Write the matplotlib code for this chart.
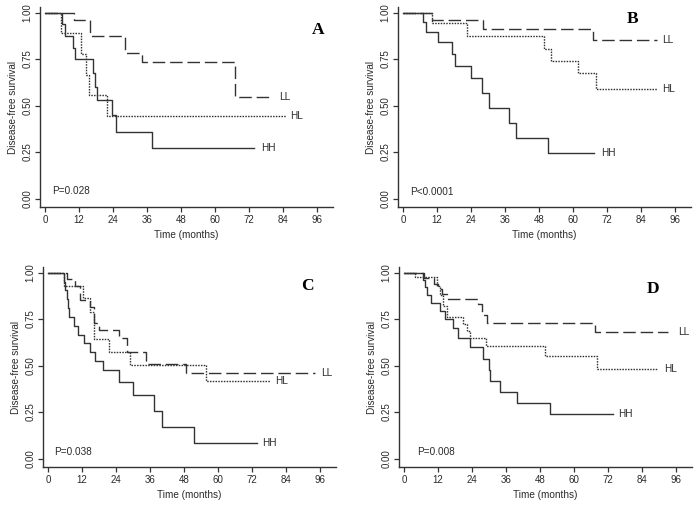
import matplotlib

matplotlib.use("Agg")
import matplotlib.pyplot as plt

plt.rcParams["font.family"] = ["Liberation Sans", "DejaVu Sans"]

# Kaplan-Meier steps: times (months) and survival
A_LL_t = [0, 10.2, 15.8, 28.1, 34.0, 67.0]
A_LL_s = [1, 0.962, 0.876, 0.781, 0.733, 0.548]
A_HL_t = [0, 5.5, 12.7, 14.4, 15.6, 21.7]
A_HL_s = [1, 0.889, 0.778, 0.667, 0.556, 0.444]
A_HH_t = [0, 5.8, 7.0, 10.0, 10.5, 16.9, 17.5, 18.4, 23.5, 25.0, 37.8]
A_HH_s = [1, 0.94, 0.875, 0.81, 0.75, 0.675, 0.60, 0.53, 0.45, 0.36, 0.27]
A_end = [79.7, 85.0, 73.5]

B_LL_t = [0, 10.3, 28.0, 66.8]
B_LL_s = [1, 0.962, 0.913, 0.852]
B_HL_t = [0, 10.2, 22.7, 49.5, 52.3, 61.5, 67.9]
B_HL_s = [1, 0.946, 0.874, 0.805, 0.739, 0.673, 0.589]
B_HH_t = [0, 7.0, 8.2, 12.3, 17.4, 18.2, 24.0, 27.9, 30.4, 37.5, 39.8, 51.2]
B_HH_s = [1, 0.95, 0.895, 0.84, 0.777, 0.712, 0.648, 0.566, 0.486, 0.405, 0.324, 0.243]
B_end = [89.6, 89.6, 67.3]

C_LL_t = [0, 6.5, 9.5, 11.2, 14.8, 16.2, 18.0, 25.0, 27.8, 34.5, 48.5]
C_LL_s = [1, 0.963, 0.926, 0.852, 0.815, 0.73, 0.69, 0.65, 0.575, 0.51, 0.459]
C_HL_t = [0, 5.5, 12.3, 14.6, 16.2, 21.3, 28.8, 55.8]
C_HL_s = [1, 0.93, 0.862, 0.79, 0.645, 0.575, 0.503, 0.418]
C_HH_t = [0, 5.6, 6.0, 6.5, 6.9, 7.2, 9.3, 10.7, 12.5, 14.6, 16.6, 19.5, 25.0, 30.0,
          37.5, 40.0, 51.6]
C_HH_s = [1, 0.952, 0.905, 0.857, 0.81, 0.762, 0.714, 0.667, 0.619, 0.571, 0.524, 0.476,
          0.41, 0.342, 0.256, 0.171, 0.085]
C_end = [94.2, 78.4, 73.7]

D_LL_t = [0, 7.0, 10.5, 12.0, 13.5, 15.0, 26.0, 27.6, 29.3, 67.2]
D_LL_s = [1, 0.97, 0.94, 0.91, 0.885, 0.86, 0.83, 0.77, 0.73, 0.683]
D_HL_t = [0, 3.8, 11.5, 12.8, 13.8, 15.0, 20.8, 22.0, 23.3, 28.8, 49.6, 68.0]
D_HL_s = [1, 0.975, 0.93, 0.88, 0.82, 0.76, 0.725, 0.685, 0.647, 0.604, 0.553, 0.481]
D_HH_t = [0, 6.8, 7.3, 7.9, 9.6, 12.6, 14.3, 17.3, 19.0, 23.2, 27.9, 29.8, 30.3, 33.8,
          39.8, 51.6]
D_HH_s = [1, 0.96, 0.92, 0.88, 0.836, 0.795, 0.75, 0.70, 0.65, 0.60, 0.535, 0.475, 0.415,
          0.358, 0.297, 0.238]
D_end = [93.2, 89.5, 73.7]

groups = ["LL", "HL", "HH"]
panel_letters = ["A", "B", "C", "D"]
p_values = ["P=0.028", "P<0.0001", "P=0.038", "P=0.008"]

# where each group's name sits (t, survival)
A_label_pos = [(82.4, 0.548), (86.4, 0.444), (76.2, 0.27)]
B_label_pos = [(91.3, 0.852), (91.3, 0.589), (69.7, 0.243)]
C_label_pos = [(96.3, 0.459), (80.2, 0.418), (75.5, 0.085)]
D_label_pos = [(96.5, 0.683), (91.5, 0.481), (75.5, 0.238)]

panels = [
    ((A_LL_t, A_LL_s), (A_HL_t, A_HL_s), (A_HH_t, A_HH_s), A_end, A_label_pos),
    ((B_LL_t, B_LL_s), (B_HL_t, B_HL_s), (B_HH_t, B_HH_s), B_end, B_label_pos),
    ((C_LL_t, C_LL_s), (C_HL_t, C_HL_s), (C_HH_t, C_HH_s), C_end, C_label_pos),
    ((D_LL_t, D_LL_s), (D_HL_t, D_HL_s), (D_HH_t, D_HH_s), D_end, D_label_pos),
]

W, H = 697, 505
# pixel position of each axes box: left, top, bottom
boxes = [(40, 7, 207), (398, 7, 207), (43, 267, 467), (399, 267, 467)]
box_w = 293
letter_pos = [(96.1, 0.905), (80.8, 0.968), (91.4, 0.928), (87.8, 0.913)]
p_pos = [(2.4, 0.042), (2.3, 0.034), (2.0, 0.034), (4.7, 0.034)]

line_color = "#333333"
text_color = "#2a2a2a"
axis_color = "#333333"
styles = [(0, (9, 3.5)), (0, (1.1, 0.9)), "-"]

fig = plt.figure(figsize=(W / 100, H / 100), dpi=100)

for i, (ll, hl, hh, ends, label_pos) in enumerate(panels):
    left, top, bottom = boxes[i]
    ax = fig.add_axes([left / W, (H - bottom) / H, box_w / W, (bottom - top) / H])
    for (t, s), end, ls in zip((ll, hl, hh), ends, styles):
        ax.step(t + [end], s + [s[-1]], where="post", color=line_color,
                linewidth=1.0, linestyle=ls)
    for name, (lx, ly) in zip(groups, label_pos):
        ax.text(lx, ly, name, fontsize=7.2, color=text_color, va="center", ha="left")
    ax.text(*letter_pos[i], panel_letters[i], fontsize=12.5, fontweight="bold",
            family="Liberation Serif", ha="center", va="center", color="black")
    ax.text(*p_pos[i], p_values[i], fontsize=7.2, color=text_color, va="center")

    ax.set_xlim(-1.8, 101.5)
    ax.set_ylim(-0.045, 1.03)
    ax.set_xticks(range(0, 97, 12))
    ax.set_yticks([0, 0.25, 0.5, 0.75, 1.0])
    ax.set_yticklabels(["0.00", "0.25", "0.50", "0.75", "1.00"], rotation=90, va="center")
    ax.tick_params(labelsize=7, length=3.5, width=0.9, color=axis_color,
                   labelcolor=text_color, pad=2)
    for side in ("top", "right"):
        ax.spines[side].set_visible(False)
    for side in ("left", "bottom"):
        ax.spines[side].set_color(axis_color)
        ax.spines[side].set_linewidth(1.0)
    ax.set_xlabel("Time (months)", fontsize=7.2, color=text_color, labelpad=4)
    ax.set_ylabel("Disease-free survival", fontsize=7.2, color=text_color, labelpad=3)

fig.savefig("out.png", dpi=100)
plt.close(fig)
